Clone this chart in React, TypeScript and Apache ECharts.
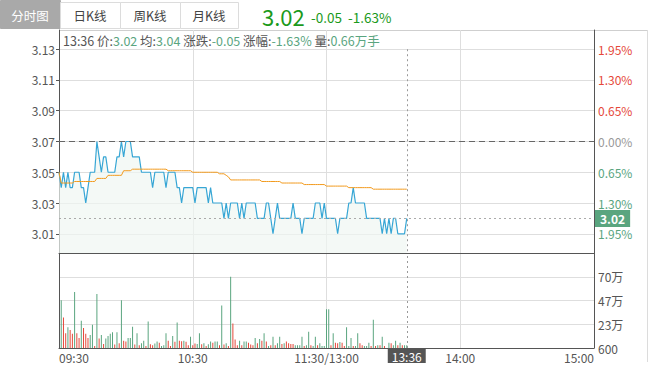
import React, { useEffect, useRef } from 'react';
import * as echarts from 'echarts';

const PRE_CLOSE = 3.07;
const TABS = ['分时图', '日K线', '周K线', '月K线'];
const TIME_LABELS = ['09:30', '10:30', '11:30/13:00', '14:00', '15:00'];
const PRICE_TICKS = [3.01, 3.03, 3.05, 3.07, 3.09, 3.11, 3.13];
const VOLUME_TICKS = [600, 233850, 467100, 700350];
const CURRENT_VOL_WAN_HANDS = 0.66;

const PRICE = [
  3.05, 3.04, 3.05, 3.04, 3.05, 3.04, 3.04, 3.05, 3.05, 3.05,
  3.04, 3.04, 3.03, 3.04, 3.05, 3.05, 3.05, 3.07, 3.06, 3.05,
  3.06, 3.06, 3.05, 3.05, 3.05, 3.05, 3.06, 3.06, 3.07, 3.06,
  3.07, 3.07, 3.07, 3.06, 3.06, 3.06, 3.06, 3.05, 3.05, 3.05,
  3.05, 3.05, 3.04, 3.05, 3.05, 3.05, 3.05, 3.05, 3.04, 3.05,
  3.05, 3.05, 3.05, 3.04, 3.04, 3.03, 3.04, 3.04, 3.04, 3.04,
  3.04, 3.03, 3.04, 3.04, 3.04, 3.04, 3.04, 3.03, 3.04, 3.03,
  3.03, 3.03, 3.03, 3.03, 3.02, 3.03, 3.02, 3.03, 3.03, 3.03,
  3.03, 3.02, 3.03, 3.02, 3.03, 3.03, 3.03, 3.03, 3.03, 3.02,
  3.02, 3.02, 3.02, 3.03, 3.03, 3.02, 3.01, 3.02, 3.03, 3.02,
  3.02, 3.02, 3.02, 3.02, 3.02, 3.03, 3.02, 3.02, 3.02, 3.01,
  3.02, 3.02, 3.02, 3.02, 3.02, 3.03, 3.03, 3.03, 3.02, 3.03,
  3.02, 3.02, 3.02, 3.02, 3.02, 3.01, 3.02, 3.02, 3.02, 3.02,
  3.03, 3.03, 3.04, 3.03, 3.03, 3.03, 3.03, 3.03, 3.02, 3.02,
  3.02, 3.02, 3.02, 3.02, 3.02, 3.01, 3.02, 3.01, 3.02, 3.01,
  3.02, 3.02, 3.01, 3.01, 3.01, 3.01, 3.02,
];

const AVG = [
  3.050, 3.043, 3.043, 3.043, 3.043, 3.043, 3.043, 3.044, 3.044, 3.044,
  3.044, 3.044, 3.044, 3.044, 3.044, 3.044, 3.044, 3.046, 3.046, 3.046,
  3.046, 3.046, 3.048, 3.048, 3.048, 3.048, 3.048, 3.048, 3.048, 3.051,
  3.051, 3.051, 3.051, 3.052, 3.052, 3.052, 3.052, 3.052, 3.052, 3.052,
  3.052, 3.052, 3.052, 3.052, 3.052, 3.052, 3.052, 3.052, 3.052, 3.051,
  3.051, 3.051, 3.051, 3.051, 3.051, 3.051, 3.051, 3.051, 3.051, 3.051,
  3.050, 3.050, 3.050, 3.050, 3.050, 3.050, 3.050, 3.050, 3.050, 3.050,
  3.050, 3.050, 3.049, 3.049, 3.049, 3.048, 3.047, 3.045, 3.045, 3.045,
  3.045, 3.045, 3.045, 3.045, 3.045, 3.045, 3.045, 3.045, 3.045, 3.045,
  3.045, 3.044, 3.044, 3.044, 3.044, 3.044, 3.044, 3.044, 3.044, 3.044,
  3.043, 3.043, 3.043, 3.043, 3.043, 3.043, 3.043, 3.043, 3.043, 3.043,
  3.042, 3.042, 3.042, 3.042, 3.042, 3.042, 3.042, 3.042, 3.042, 3.042,
  3.041, 3.041, 3.041, 3.041, 3.041, 3.041, 3.041, 3.041, 3.041, 3.041,
  3.040, 3.040, 3.040, 3.040, 3.040, 3.040, 3.040, 3.040, 3.040, 3.040,
  3.040, 3.039, 3.039, 3.039, 3.039, 3.039, 3.039, 3.039, 3.039, 3.039,
  3.039, 3.039, 3.039, 3.039, 3.039, 3.039, 3.039,
];

// volume in 万 (10,000 shares)
const VOLUME_WAN = [
  0, 47, 30, 14.6, 20.5, 17.7, 14, 55, 14.6, 10,
  26.8, 19.6, 14, 10, 12.8, 23, 2, 53, 9.3, 12.8,
  4, 9.3, 11.8, 14, 15.6, 3.4, 15.6, 4.7, 47, 7.2,
  6.5, 10, 10, 21, 3.4, 14.6, 2.8, 4.7, 7.2, 2,
  26, 3.7, 2.8, 4.4, 6.5, 5.3, 2, 2.8, 14.6, 7.2,
  2, 11.8, 6.2, 25, 7.2, 6.8, 7.2, 6.2, 2.8, 11.2,
  2.8, 4.4, 4, 14.6, 3.7, 4.7, 2, 3.7, 6.5, 5.3,
  6.5, 6.5, 2.8, 41.7, 3.4, 4.7, 2, 70, 24, 8.4,
  2.8, 7.2, 2.8, 6.5, 6.5, 5.3, 3.4, 2.8, 10, 4.7,
  9, 7.2, 14.6, 6.5, 2, 2.8, 11.2, 2.8, 4.7, 11.2,
  4, 4.7, 6.5, 4.7, 4, 4, 2.8, 2.8, 2.8, 11.2,
  2, 2.8, 16, 2.8, 2, 11.2, 2.8, 4.7, 2, 2,
  38, 38, 2.8, 14.6, 5.3, 4.7, 5.9, 5.3, 2, 20.5,
  2, 10, 2, 2, 14.6, 4.7, 2.8, 2, 2, 5.3,
  2, 27.7, 2, 2.8, 2.8, 11.2, 2, 0, 5.3, 4.7,
  2.8, 7.2, 2.8, 5.3, 2.8, 2.8, 2.8,
];

// 1 = up (red), 0 = down (green)
const VOLUME_UP = [
  0, 0, 1, 1, 0, 1, 1, 0, 1, 1,
  0, 1, 1, 1, 0, 0, 1, 0, 1, 0,
  1, 0, 0, 0, 0, 1, 0, 1, 0, 1,
  1, 0, 0, 0, 1, 0, 1, 0, 0, 1,
  0, 1, 1, 0, 0, 1, 0, 0, 0, 1,
  1, 0, 1, 0, 1, 1, 0, 1, 1, 0,
  1, 1, 0, 0, 1, 0, 1, 0, 0, 1,
  0, 0, 1, 0, 1, 0, 1, 0, 1, 1,
  1, 0, 1, 0, 0, 1, 1, 1, 0, 1,
  0, 1, 0, 1, 0, 1, 0, 1, 0, 0,
  1, 0, 1, 1, 1, 1, 0, 0, 0, 0,
  1, 0, 0, 1, 0, 0, 1, 0, 0, 0,
  0, 0, 1, 0, 1, 1, 0, 1, 1, 0,
  0, 0, 1, 0, 0, 1, 1, 0, 0, 0,
  1, 0, 1, 0, 1, 0, 1, 0, 0, 1,
  0, 0, 1, 0, 1, 0, 0,
];

const CATEGORIES: string[] = [];
for (let i = 0; i <= 240; i++) {
  const t = i <= 120 ? 9 * 60 + 30 + i : 13 * 60 + (i - 120);
  const h = Math.floor(t / 60);
  const m = t % 60;
  CATEGORIES.push(String(h).padStart(2, '0') + ':' + String(m).padStart(2, '0'));
}

const FONT = '"Microsoft YaHei", "Noto Sans CJK SC", sans-serif';
const RED = '#e5483a';
const GREEN = '#5aa57f';
const AXIS = '#555';
const GRID = '#dedede';

export default function App() {
  const ref = useRef<HTMLDivElement>(null);

  useEffect(() => {
    if (!ref.current) return;
    const chart = echarts.init(ref.current, undefined, { renderer: 'svg' });

    const lastIdx = PRICE.length - 1;
    const last = PRICE[lastIdx];
    const lastTime = CATEGORIES[lastIdx];
    const lastAvg = AVG[lastIdx];
    const chg = last - PRE_CLOSE;
    const pct = (chg / PRE_CLOSE) * 100;
    const chgText = (chg >= 0 ? '+' : '') + chg.toFixed(2);
    const pctText = (pct >= 0 ? '+' : '') + pct.toFixed(2) + '%';
    const headColor = chg >= 0 ? RED : '#1b9a1b';
    const yMin = PRE_CLOSE - 0.0725;
    const yMax = PRE_CLOSE + 0.0725;

    const tabGraphics: any[] = TABS.map((t, i) => {
      const x = i * 60;
      const w = i === 3 ? 58 : 60;
      const sel = i === 0;
      return {
        type: 'group',
        children: [
          {
            type: 'rect',
            shape: { x: x + 0.5, y: sel ? 0.5 : 2.5, width: w, height: sel ? 28 : 26 },
            style: { fill: sel ? '#a9a9a9' : '#fff', stroke: sel ? '#a9a9a9' : '#dcdcdc', lineWidth: 1 },
          },
          {
            type: 'text',
            x: x + w / 2,
            y: 15,
            style: {
              text: t,
              fill: sel ? '#fff' : '#444',
              font: `12.5px ${FONT}`,
              align: 'center',
              verticalAlign: 'middle',
            },
          },
        ],
      };
    });

    const option: any = {
      animation: false,
      backgroundColor: '#fff',
      textStyle: { fontFamily: FONT },
      graphic: [
        ...tabGraphics,
        {
          type: 'text',
          x: 262,
          y: 16,
          style: { text: last.toFixed(2), fill: headColor, font: `22px ${FONT}`, lineHeight: 22, verticalAlign: 'middle' },
        },
        {
          type: 'text',
          x: 311,
          y: 16.5,
          style: { text: chgText + '  ' + pctText, fill: headColor, font: `13.5px ${FONT}`, lineHeight: 14, verticalAlign: 'middle' },
        },
        {
          type: 'line',
          shape: { x1: 59, y1: 30.5, x2: 648, y2: 30.5 },
          style: { stroke: '#cfcfcf', lineWidth: 1 },
        },
        {
          type: 'line',
          shape: { x1: 647.5, y1: 30, x2: 647.5, y2: 362 },
          style: { stroke: '#dcdcdc', lineWidth: 1 },
        },
        {
          type: 'text',
          x: 63,
          y: 40.5,
          z: 10,
          style: {
            text:
              `{l|${lastTime} 价:}{v|${last.toFixed(2)}}{l| 均:}{v|${lastAvg.toFixed(2)}}` +
              `{l| 涨跌:}{v|${chgText}}{l| 涨幅:}{v|${pctText}}{l| 量:}{v|${CURRENT_VOL_WAN_HANDS.toFixed(2)}万手}`,
            verticalAlign: 'middle',
            rich: {
              l: { fill: '#555', font: `12.5px ${FONT}`, lineHeight: 14 },
              v: { fill: GREEN, font: `12.5px ${FONT}`, lineHeight: 14 },
            },
          },
        },
      ],
      grid: [
        { left: 59, right: 69, top: 30, height: 223 },
        { left: 59, right: 69, top: 253, height: 95 },
      ],
      xAxis: [
        {
          type: 'category',
          gridIndex: 0,
          data: CATEGORIES,
          boundaryGap: false,
          axisLine: { onZero: false, lineStyle: { color: AXIS } },
          axisTick: { show: false },
          axisLabel: { show: false },
          splitLine: { show: true, interval: 59, lineStyle: { color: GRID } },
        },
        {
          type: 'category',
          gridIndex: 1,
          data: CATEGORIES,
          boundaryGap: false,
          axisLine: { onZero: false, lineStyle: { color: AXIS } },
          axisTick: { show: false },
          axisLabel: {
            show: true,
            interval: 59,
            color: AXIS,
            fontSize: 12,
            margin: 3,
            alignMinLabel: 'left',
            alignMaxLabel: 'right',
            formatter: (_v: string, idx: number) => TIME_LABELS[Math.round(idx / 60)] ?? '',
          },
          splitLine: { show: true, interval: 59, lineStyle: { color: GRID } },
        },
      ],
      yAxis: [
        {
          type: 'value',
          gridIndex: 0,
          position: 'left',
          min: yMin,
          max: yMax,
          axisLine: { show: true, lineStyle: { color: AXIS } },
          axisTick: { show: true, length: 3, customValues: PRICE_TICKS, lineStyle: { color: AXIS } },
          axisLabel: {
            customValues: PRICE_TICKS,
            color: AXIS,
            fontSize: 12,
            margin: 4,
            formatter: (v: number) => v.toFixed(2),
          },
          splitLine: { show: true, lineStyle: { color: GRID } },
        },
        {
          type: 'value',
          gridIndex: 0,
          position: 'right',
          min: yMin,
          max: yMax,
          axisLine: { show: true, lineStyle: { color: AXIS } },
          axisTick: { show: false, customValues: PRICE_TICKS },
          axisLabel: {
            customValues: PRICE_TICKS,
            margin: 4,
            formatter: (v: number) => {
              const d = Math.round((v - PRE_CLOSE) * 10000) / 10000;
              const p = (Math.abs(d) / PRE_CLOSE * 100).toFixed(2) + '%';
              const k = d > 0 ? 'u' : d < 0 ? 'd' : 'z';
              return `{${k}|${p}}`;
            },
            rich: {
              u: { color: RED, fontSize: 12 },
              d: { color: GREEN, fontSize: 12 },
              z: { color: '#999', fontSize: 12 },
            },
          },
          splitLine: { show: false },
        },
        {
          type: 'value',
          gridIndex: 1,
          position: 'left',
          min: 600,
          max: 933600,
          axisLine: { show: true, lineStyle: { color: AXIS } },
          axisTick: { show: false },
          axisLabel: { show: false },
          splitLine: { show: false },
        },
        {
          type: 'value',
          gridIndex: 1,
          position: 'right',
          min: 600,
          max: 933600,
          axisLine: { show: true, lineStyle: { color: AXIS } },
          axisTick: { show: false, customValues: VOLUME_TICKS },
          axisLabel: {
            customValues: VOLUME_TICKS,
            color: AXIS,
            fontSize: 12,
            margin: 4,
            formatter: (v: number) => (v < 10000 ? String(Math.round(v)) : Math.round(v / 10000) + '万'),
          },
          splitLine: { show: true, lineStyle: { color: GRID } },
        },
      ],
      series: [
        {
          name: '价格',
          type: 'line',
          xAxisIndex: 0,
          yAxisIndex: 0,
          data: PRICE,
          symbol: 'none',
          lineStyle: { color: '#37a6d5', width: 1.2 },
          itemStyle: { color: '#37a6d5' },
          areaStyle: { color: '#eff7f2', origin: 'start' },
          z: 3,
          markLine: {
            silent: true,
            symbol: ['none', 'none'],
            animation: false,
            data: [
              {
                yAxis: PRE_CLOSE,
                lineStyle: { color: '#666', type: [6, 4], width: 1 },
                label: { show: false },
              },
              {
                yAxis: last,
                lineStyle: { color: '#aaa', type: [2, 3], width: 1 },
                label: {
                  show: true,
                  position: 'end',
                  distance: 1,
                  formatter: last.toFixed(2),
                  color: '#fff',
                  backgroundColor: GREEN,
                  padding: [3, 5, 2, 5],
                  fontSize: 12,
                  fontWeight: 'bold',
                },
              },
              [
                { coord: [lastTime, PRICE_TICKS[PRICE_TICKS.length - 1]], lineStyle: { color: '#999', type: [2, 3], width: 1 }, label: { show: false } },
                { coord: [lastTime, yMin] },
              ],
            ],
          },
        },
        {
          name: '均价',
          type: 'line',
          xAxisIndex: 0,
          yAxisIndex: 0,
          data: AVG,
          symbol: 'none',
          lineStyle: { color: '#f29a1d', width: 1 },
          itemStyle: { color: '#f29a1d' },
          z: 4,
        },
        {
          name: '成交量',
          type: 'bar',
          xAxisIndex: 1,
          yAxisIndex: 3,
          barWidth: 1,
          data: VOLUME_WAN.map((v, i) => ({
            value: v > 0 ? v * 10000 : null,
            itemStyle: { color: VOLUME_UP[i] ? RED : GREEN },
          })),
          markLine: {
            silent: true,
            symbol: ['none', 'none'],
            animation: false,
            data: [
              {
                xAxis: lastTime,
                lineStyle: { color: '#999', type: [2, 3], width: 1 },
                label: {
                  show: true,
                  position: 'start',
                  distance: 0,
                  formatter: lastTime,
                  color: '#fff',
                  backgroundColor: '#555',
                  padding: [2, 4, 1, 4],
                  fontSize: 12,
                },
              },
            ],
          },
        },
      ],
    };

    chart.setOption(option);
    return () => chart.dispose();
  }, []);

  return (
    <div
      ref={ref}
      style={{ position: 'absolute', left: 0, top: 0, width: 663, height: 377, background: '#fff' }}
    />
  );
}
